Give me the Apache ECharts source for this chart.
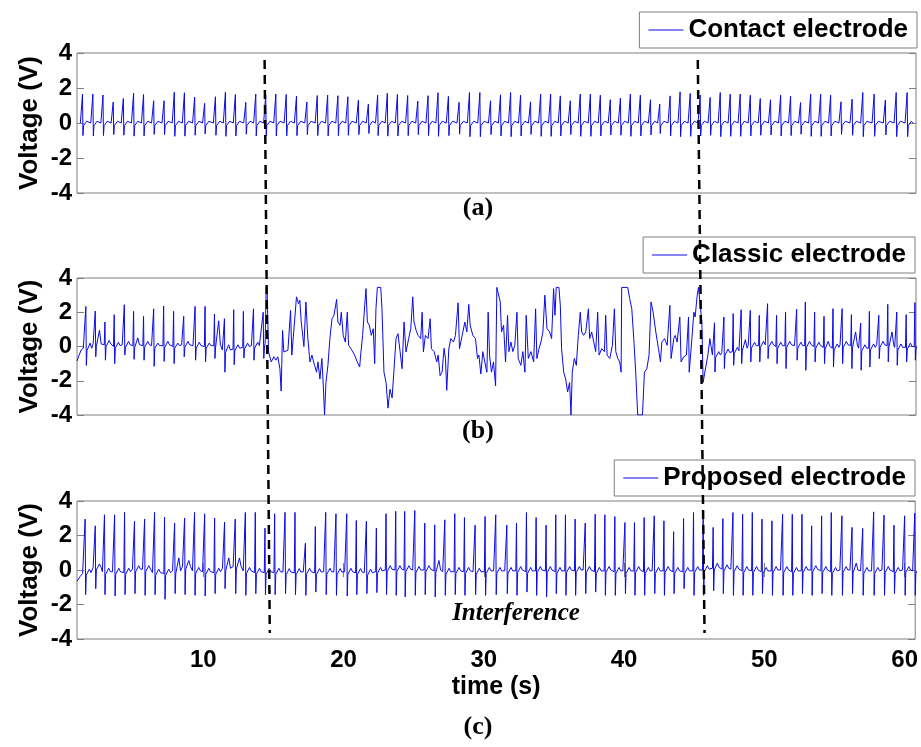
<!DOCTYPE html>
<html>
<head>
<meta charset="utf-8">
<script src="https://cdn.jsdelivr.net/npm/echarts@6/dist/echarts.min.js"></script>
<style>
  html, body { margin: 0; padding: 0; background: #fff; }
  #chart { width: 921px; height: 747px; }
</style>
</head>
<body>
<div id="chart"></div>
<script>
// ---- data (time in s, voltage in V) ----
const xTicks = [10, 20, 30, 40, 50, 60];
const yTicks = [-4, -2, 0, 2, 4];

// (a) contact electrode: beat times, R peaks, S troughs
const aTimes = [1.39,2.13,2.85,3.58,4.30,5.03,5.74,6.46,7.20,7.93,8.65,9.38,10.09,10.86,11.57,12.28,13.02,13.73,14.44,15.16,15.90,16.63,17.37,18.11,18.85,19.58,20.29,21.04,21.75,22.41,23.10,23.82,24.55,25.27,26.00,26.71,27.45,28.21,
  28.95,29.69,30.45,31.16,31.88,32.59,33.30,34.02,34.73,35.42,36.13,36.84,37.56,38.27,38.98,39.70,40.41,41.12,41.84,42.50,43.24,43.95,44.67,45.38,46.09,46.81,47.52,48.23,48.95,49.66,50.39,51.11,51.82,52.53,53.25,53.96,54.67,55.41,56.20,56.96,57.77,58.57,59.34,60.12];
const aR = [1.65,1.65,1.6,1.2,1.4,1.7,1.63,1.27,1.27,1.76,1.73,1.48,1.12,1.5,1.76,1.63,1.18,1.65,1.6,1.65,1.63,1.54,1.2,1.57,1.6,1.56,1.5,1.3,1.08,1.6,1.7,1.63,1.57,1.25,1.56,1.73,1.52,1.18,
  1.74,1.74,1.27,1.61,1.74,1.59,1.21,1.65,1.65,1.55,1.27,1.65,1.65,1.59,1.33,1.42,1.65,1.59,1.33,1.08,1.55,1.78,1.69,1.6,1.46,1.74,1.65,1.65,1.59,1.4,1.33,1.59,1.53,1.17,1.65,1.65,1.59,1.21,1.36,1.74,1.65,1.31,1.74,1.74];
const aS = [-0.72,-0.74,-0.72,-0.66,-0.7,-0.75,-0.74,-0.65,-0.66,-0.76,-0.75,-0.7,-0.62,-0.7,-0.76,-0.74,-0.64,-0.74,-0.72,-0.74,-0.74,-0.72,-0.66,-0.72,-0.74,-0.72,-0.7,-0.66,-0.6,-0.72,-0.75,-0.74,-0.72,-0.66,-0.72,-0.76,-0.72,-0.64,
  -0.78,-0.78,-0.66,-0.74,-0.78,-0.74,-0.65,-0.76,-0.76,-0.74,-0.66,-0.76,-0.76,-0.74,-0.68,-0.7,-0.76,-0.74,-0.68,-0.6,-0.74,-0.78,-0.76,-0.74,-0.7,-0.78,-0.76,-0.76,-0.74,-0.7,-0.68,-0.74,-0.72,-0.64,-0.76,-0.76,-0.74,-0.65,-0.7,-0.78,-0.76,-0.68,-0.78,-0.78];

// (b) classic electrode: clean start, interference trace, clean end
const bLead = [[1.0,-0.85],[1.15,-0.5],[1.3,-0.2],[1.45,-0.1]];
const bTimesL = [1.63,2.30,2.99,3.65,4.37,5.03,5.74,6.46,7.17,7.88,8.60,9.41,10.12,10.79,11.50,12.16,12.85,13.57];
const bRL = [2.34,2.07,1.43,1.86,2.44,2.05,1.76,2.2,2.36,2.05,1.76,2.34,2.34,1.9,1.62,2.15,2.05,2.2];
const bSL = [-1.1,-0.6,-0.8,-1.0,-0.5,-0.75,-0.8,-1.16,-0.87,-1.0,-0.6,-0.8,-0.9,-0.7,-1.5,-1.06,-0.67,-0.8];
const bBaseL = [-0.1,0.15,0.15,0.05,0.1,0.1,0.1,0.05,0.1,0.05,0.1,0.05,0.05,0.1,-0.2,-0.1,0.0,0.05];
const bTL = [0.3,0.8,0.2,0.2,0.2,0.4,0.2,0.15,0.2,0.15,0.2,0.2,0.15,1.4,0.3,0.2,0.2,0.2];
const bNoisy = [[14.11,0.05],[14.26,2.0],[14.30,-0.7],[14.36,0.05],[14.40,0.17],[14.47,3.45],[14.54,3.18],[14.64,-0.32],[14.83,-0.9],[15.02,-0.6],[15.16,-0.8],[15.30,-0.6],[15.45,-1.3],[15.54,-2.6],[15.64,0.94],[15.73,-0.32],[16.02,-0.22],[16.21,2.1],[16.30,-0.5],[16.49,1.43],[16.63,2.9],[16.78,2.5],[16.87,2.7],[16.97,1.43],[17.16,0],[17.30,2.6],[17.44,0.46],[17.59,-0.9],[17.73,-0.5],[17.92,-1.1],[18.06,-1.5],[18.16,-0.9],[18.30,-1.9],[18.44,-0.7],[18.54,-2.3],[18.63,-4.0],[18.73,-2.1],[18.87,-1.1],[19.01,0.46],[19.16,1.62],[19.30,1.82],[19.49,2.75],[19.58,1.43],[19.73,1.24],[19.82,2.0],[19.96,0.65],[20.11,0.26],[20.25,2.0],[20.34,0.07],[20.58,-0.22],[20.77,-0.5],[20.96,-0.9],[21.13,-1.2],[21.20,-0.5],[21.34,0.65],[21.49,2.4],[21.58,3.38],[21.68,1.43],[21.82,1.24],[21.96,0.65],[22.10,1.04],[22.20,-1.0],[22.29,2.2],[22.39,3.45],[22.63,3.45],[22.72,2.2],[22.86,-1.5],[23.01,-2.1],[23.15,-3.6],[23.29,-2.5],[23.44,-3.0],[23.58,-1.3],[23.72,0.46],[23.86,0.75],[24.01,-0.3],[24.15,-1.3],[24.29,1.43],[24.43,-0.32],[24.62,0.46],[24.77,1.04],[24.91,2.9],[25.00,1.43],[25.15,0.94],[25.29,0.65],[25.48,0.46],[25.58,2.0],[25.67,-0.32],[25.81,0.65],[26.00,0.46],[26.15,1.62],[26.24,-0.13],[26.43,-0.3],[26.62,-0.9],[26.72,-0.5],[26.86,-1.7],[27.00,-1.5],[27.14,-0.1],[27.24,-0.7],[27.33,-2.56],[27.48,-0.13],[27.62,0.46],[27.81,0.26],[27.95,0.65],[28.14,2.55],[28.24,-0.13],[28.43,0.65],[28.62,1.43],[28.76,0.85],[28.90,2.46],[29.00,1.24],[29.19,0.65],[29.38,0.46],[29.52,-0.7],[29.62,-0.5],[29.76,-1.6],[29.90,-0.3],[30.04,-0.9],[30.19,-1.5],[30.28,2.0],[30.38,-0.5],[30.52,-1.5],[30.66,-0.9],[30.81,-2.3],[30.90,3.45],[31.04,3.45],[31.14,2.6],[31.23,0.85],[31.38,1.24],[31.52,-0.9],[31.66,1.82],[31.76,-0.3],[31.90,0.26],[32.04,-0.3],[32.18,0.07],[32.33,2.0],[32.42,-0.7],[32.61,-1.1],[32.75,-0.3],[32.90,-1.5],[32.99,1.82],[33.14,-0.7],[33.33,-0.3],[33.52,-0.9],[33.66,2.2],[33.75,-0.7],[33.90,-0.13],[34.04,0.26],[34.18,0.85],[34.32,3.0],[34.47,1.04],[34.66,0.85],[34.80,0.46],[34.94,3.38],[35.04,1.82],[35.13,3.45],[35.32,3.45],[35.42,2.4],[35.51,-0.13],[35.66,-1.5],[35.80,-1.9],[35.94,-2.65],[36.08,-2.1],[36.18,-4.0],[36.27,-1.5],[36.42,-0.7],[36.56,-1.1],[36.70,0.65],[36.84,2.0],[36.94,0.85],[37.08,0.65],[37.23,0.85],[37.42,2.2],[37.51,0.46],[37.65,0.85],[37.80,0.26],[37.94,-0.3],[38.08,2.0],[38.18,-0.5],[38.37,-0.13],[38.56,-0.3],[38.65,1.82],[38.75,-0.5],[38.94,-0.7],[39.13,0.07],[39.27,2.2],[39.37,-0.3],[39.51,-0.7],[39.65,-0.9],[39.75,-1.5],[39.79,3.45],[40.22,3.45],[40.36,2.8],[40.51,2.2],[40.65,0.46],[40.79,-1.5],[40.93,-4.0],[41.27,-4.0],[41.41,-1.5],[41.58,-1.3],[41.74,-0.5],[41.88,2.6],[42.03,2.0],[42.22,0.85],[42.41,-0.13],[42.55,-0.9],[42.65,0.26],[42.84,0.46],[43.03,0.07],[43.22,2.4],[43.31,-0.7],[43.50,0.46],[43.60,0.65],[43.74,0.26],[43.93,1.72],[44.02,-0.9],[44.21,-0.6],[44.40,-0.5],[44.55,1.72],[44.60,-1.5],[44.79,0.46],[44.93,2.0],[45.02,1.72],[45.17,3.0],[45.26,3.45],[45.40,3.38],[45.50,1.43],[45.59,-2.1],[45.69,-1.6],[45.83,-1.7],[45.93,-0.5],[46.07,0.46],[46.21,0.36]];
const bTimesR = [46.40,47.07,47.73,48.30,48.95,49.59,50.18,50.82,51.46,52.25,52.87,53.53,54.20,54.84,55.49,56.15,56.81,57.43,58.10,58.74,59.38,60.05,60.67];
const bRR = [1.39,1.72,1.92,2.15,2.11,1.82,2.5,1.82,2.01,2.17,2.6,2.01,1.76,2.21,2.21,1.86,1.37,2.05,1.82,2.46,2.01,1.86,2.56];
const bSR = [-1.49,-1.29,-1.1,-1.0,-0.9,-0.9,-0.71,-1.0,-1.29,-0.8,-1.39,-0.9,-1.0,-1.2,-1.0,-1.29,-1.39,-1.2,-0.71,-0.9,-1.1,-0.9,-0.8];
const bBaseR = [-0.5,-0.35,-0.25,-0.1,0.05,0.1,0.1,0.05,0.1,0.05,0.1,0.05,0.0,-0.05,0.1,0.1,-0.1,-0.05,0.1,0.1,-0.05,0.0,0.05];
const bTR = [0.2,0.2,0.2,0.5,0.2,0.2,0.2,0.2,0.2,0.2,0.2,0.2,0.3,0.2,0.2,0.75,0.2,0.2,0.2,0.75,0.2,0.2,0.2];

// (c) proposed electrode
const cLead = [[1.0,-0.65],[1.2,-0.4],[1.4,-0.2]];
const cTimes = [1.58,2.30,2.96,3.68,4.39,5.10,5.82,6.53,7.24,7.96,8.67,9.38,10.10,10.81,11.52,12.28,13.00,13.71,14.40,15.09,15.83,16.54,17.28,17.99,18.73,19.46,20.23,20.91,21.63,22.34,23.03,23.72,24.36,25.08,25.79,26.50,27.22,27.93,28.62,29.38,30.09,30.85,
  31.64,32.33,33.04,33.73,34.44,35.13,35.82,36.51,37.23,37.94,38.63,39.34,40.06,40.74,41.43,42.15,42.84,43.53,44.24,44.95,45.64,46.35,47.04,47.76,48.45,49.14,49.83,50.54,51.30,51.99,52.68,53.37,54.08,54.77,55.53,56.25,57.01,57.79,58.53,59.24,60.00,60.72];
const cR = [2.95,2.56,3.2,3.2,3.34,2.82,2.95,3.34,3.07,2.72,3.01,3.34,3.26,3.01,2.78,2.95,3.34,3.34,2.43,3.26,3.34,3.34,1.55,2.52,3.34,3.26,3.26,2.87,2.82,2.43,3.26,3.4,3.4,3.45,2.72,2.62,2.91,3.26,3.04,2.6,3.1,3.2,
  2.6,2.72,3.33,3.04,2.6,3.2,3.2,2.95,2.72,3.23,3.2,3.1,2.75,2.75,3.04,3.14,2.85,2.22,2.98,3.33,3.37,2.47,2.98,3.33,3.23,3.33,2.95,2.85,3.23,3.23,3.23,2.56,3.14,3.33,3.14,2.47,2.41,3.37,3.18,2.6,3.14,3.29];
const cS = [-1.43,-1.08,-1.43,-1.51,-1.43,-1.37,-1.47,-1.43,-1.7,-1.37,-1.43,-1.47,-1.51,-1.37,-1.08,-1.37,-1.47,-1.37,-1.43,-1.43,-1.37,-1.43,-1.47,-1.28,-1.43,-1.47,-1.51,-1.43,-1.37,-1.31,-1.43,-1.47,-1.56,-1.47,-1.43,-1.56,-1.47,-1.43,-1.47,-1.43,-1.47,-1.43,
  -1.37,-1.47,-1.28,-1.47,-1.56,-1.37,-1.47,-1.47,-1.37,-1.28,-1.47,-1.47,-1.37,-1.47,-1.47,-1.37,-1.47,-1.37,-1.08,-1.47,-1.47,-1.2,-1.37,-1.47,-1.47,-1.47,-1.37,-1.47,-1.47,-1.47,-1.37,-1.47,-1.37,-1.47,-1.47,-1.37,-1.47,-1.47,-1.47,-1.37,-1.47,-1.47];
const cBase = [-0.15,0.15,-0.1,-0.1,-0.1,0.05,0.05,-0.15,-0.15,-0.05,
  0.2,-0.05,-0.1,-0.1,0.1,0.2,-0.05,-0.1,-0.1,-0.1,
  -0.12,-0.12,-0.1,-0.12,-0.1,-0.12,-0.1,-0.12,-0.15,-0.05,
  0.05,0.05,0.05,0.0,0.05,0.0,-0.1,-0.05,-0.05,-0.1,
  -0.05,-0.05,-0.05,0.0,-0.05,0.0,0.0,-0.05,0.0,0.0,
  0.0,-0.05,0.0,-0.05,-0.05,0.0,-0.05,-0.05,0.0,-0.05,
  -0.05,0.0,0.05,0.15,0.1,0.05,0.0,0.0,-0.05,0.0,
  0.0,-0.05,0.0,0.05,0.0,-0.05,0.0,0.0,-0.05,-0.05,
  0.0,-0.05,0.0,-0.05];
const cT = [0.2,0.2,0.2,0.2,0.2,0.2,0.2,0.2,0.2,0.75,
  0.35,0.2,0.2,0.2,0.6,0.5,0.2,0.2,0.2,0.2,
  0.2,0.2,0.2,0.2,0.2,0.2,0.2,0.2,0.2,0.2,
  0.2,0.2,0.2,0.2,0.2,0.55,0.2,0.2,0.2,0.2,
  0.2,0.2,0.2,0.2,0.2,0.2,0.2,0.2,0.2,0.2,
  0.2,0.2,0.2,0.2,0.2,0.2,0.2,0.2,0.2,0.2,
  0.2,0.2,0.2,0.25,0.2,0.2,0.2,0.2,0.2,0.2,
  0.2,0.2,0.2,0.2,0.2,0.2,0.2,0.4,0.2,0.2,
  0.2,0.2,0.2,0.2];

// dashed markers: [time at top, time at bottom]
const markerLines = [[14.36, 14.73], [45.21, 45.69]];
const interferenceLabel = "Interference";

// shape of one heartbeat: [time offset, level, added offset]
const BEAT_SHAPE = [[-0.15, "b", 0], [-0.05, "b", -0.05], [0, "r", 0], [0.035, "s", 0], [0.08, "b", -0.15], [0.3, "t", 0], [0.42, "b", 0]];

function buildBeats(times, r, s, base, tw) {
  const pts = [];
  times.forEach((t, i) => {
    const b = base ? base[i] : 0;
    const lv = { b: b, r: r[i], s: s[i], t: b + (tw ? tw[i] : 0.1) };
    BEAT_SHAPE.forEach(([dt, key, add]) => pts.push([+(t + dt).toFixed(3), lv[key] + add]));
  });
  return pts;
}

const aData = buildBeats(aTimes, aR, aS, null, null);
const bData = bLead.concat(buildBeats(bTimesL, bRL, bSL, bBaseL, bTL), bNoisy, buildBeats(bTimesR, bRR, bSR, bBaseR, bTR));
const cData = cLead.concat(buildBeats(cTimes, cR, cS, cBase, cT));

const SANS = '"Liberation Sans", Arial, sans-serif';
const SERIF = '"Liberation Serif", "Times New Roman", serif';
const FRAME = "#7f7f7f";
const TRACE = "#0a0ae6";
const X_MIN = 1;
const X_MAX = 60.75;

const grids = [
  { top: 53, height: 140 },
  { top: 278, height: 137 },
  { top: 501, height: 138 },
];

function panelX(gridIndex) {
  return {
    type: "value", gridIndex, min: X_MIN, max: X_MAX,
    axisLine: { show: false }, axisTick: { show: false }, axisLabel: { show: false }, splitLine: { show: false },
  };
}

function panelY(gridIndex, right) {
  return {
    type: "value", gridIndex, min: -4, max: 4, interval: 2,
    position: right ? "right" : "left",
    axisLine: { show: false },
    axisTick: { show: true, inside: true, length: 7, lineStyle: { color: FRAME } },
    axisLabel: right ? { show: false } : { show: true, margin: 5, color: "#000", fontSize: 24, fontWeight: "bold", fontFamily: SANS },
    splitLine: { show: false },
    name: right ? "" : "Voltage (V)",
    nameLocation: "middle",
    nameGap: 34,
    nameMoveOverlap: false,
    nameRotate: 90,
    nameTextStyle: { color: "#000", fontSize: 26, fontWeight: "bold", fontFamily: SANS },
  };
}

function legendBox(name, right, top) {
  return {
    data: [{ name, icon: "rect" }], right, top, orient: "horizontal", selectedMode: false,
    itemWidth: 35, itemHeight: 1,
    itemStyle: { color: TRACE, borderWidth: 0 },
    backgroundColor: "#fff", borderColor: FRAME, borderWidth: 1, borderRadius: 0,
    padding: [5, 9, 5, 9],
    textStyle: { color: "#000", fontSize: 26, fontWeight: "bold", fontFamily: SANS },
  };
}

function trace(name, data, idx) {
  return {
    name, type: "line", xAxisIndex: idx, yAxisIndex: idx * 2, data,
    symbol: "none", showSymbol: false, silent: true,
    lineStyle: { width: 1, color: TRACE }, itemStyle: { color: TRACE },
  };
}

const chart = echarts.init(document.getElementById("chart"), null, { renderer: "canvas" });

chart.setOption({
  animation: false,
  backgroundColor: "#fff",
  grid: grids.map((g) => ({ left: 77, right: 5, top: g.top, height: g.height, show: true, borderColor: FRAME, borderWidth: 1, backgroundColor: "transparent" }))
    .concat([{ left: 77, right: 5, top: 60, bottom: 114, show: false }]),
  xAxis: [
    panelX(0),
    panelX(1),
    {
      type: "value", gridIndex: 2, min: X_MIN, max: X_MAX, position: "bottom",
      axisLine: { show: false },
      axisTick: { show: true, inside: true, length: 7, customValues: xTicks, lineStyle: { color: FRAME } },
      axisLabel: { show: true, customValues: xTicks, margin: 9, color: "#000", fontSize: 24, fontWeight: "bold", fontFamily: SANS },
      splitLine: { show: false },
      name: "time (s)", nameLocation: "middle", nameGap: 36,
      nameTextStyle: { color: "#000", fontSize: 25, fontWeight: "bold", fontFamily: SANS },
    },
    {
      type: "value", gridIndex: 2, min: X_MIN, max: X_MAX, position: "top",
      axisLine: { show: false },
      axisTick: { show: true, inside: true, length: 7, customValues: xTicks, lineStyle: { color: FRAME } },
      axisLabel: { show: false }, splitLine: { show: false },
    },
    { type: "value", gridIndex: 3, min: X_MIN, max: X_MAX, show: false },
  ],
  yAxis: [
    panelY(0, false), panelY(0, true),
    panelY(1, false), panelY(1, true),
    panelY(2, false), panelY(2, true),
    { type: "value", gridIndex: 3, min: 0, max: 1, show: false },
  ],
  legend: [
    legendBox("Contact electrode", 4, 12),
    legendBox("Classic electrode", 6, 237),
    legendBox("Proposed electrode", 6, 460),
  ],
  series: [
    trace("Contact electrode", aData, 0),
    trace("Classic electrode", bData, 1),
    trace("Proposed electrode", cData, 2),
  ].concat(markerLines.map(([topT, bottomT]) => ({
    type: "line", xAxisIndex: 4, yAxisIndex: 6, z: 10, silent: true,
    symbol: "none", data: [[topT, 1], [bottomT, 0]],
    lineStyle: { color: "#000", width: 2.5, type: [9, 6] },
  }))),
  graphic: [
    { type: "text", x: 478, y: 208, z: 20, style: { text: "(a)", font: "bold 26px " + SERIF, fill: "#000", align: "center", verticalAlign: "middle" } },
    { type: "text", x: 478, y: 431, z: 20, style: { text: "(b)", font: "bold 26px " + SERIF, fill: "#000", align: "center", verticalAlign: "middle" } },
    { type: "text", x: 478, y: 727, z: 20, style: { text: "(c)", font: "bold 26px " + SERIF, fill: "#000", align: "center", verticalAlign: "middle" } },
    { type: "text", x: 516, y: 614, z: 20, style: { text: interferenceLabel, font: "italic bold 25px " + SERIF, fill: "#000", align: "center", verticalAlign: "middle" } },
  ],
});
</script>
</body>
</html>
